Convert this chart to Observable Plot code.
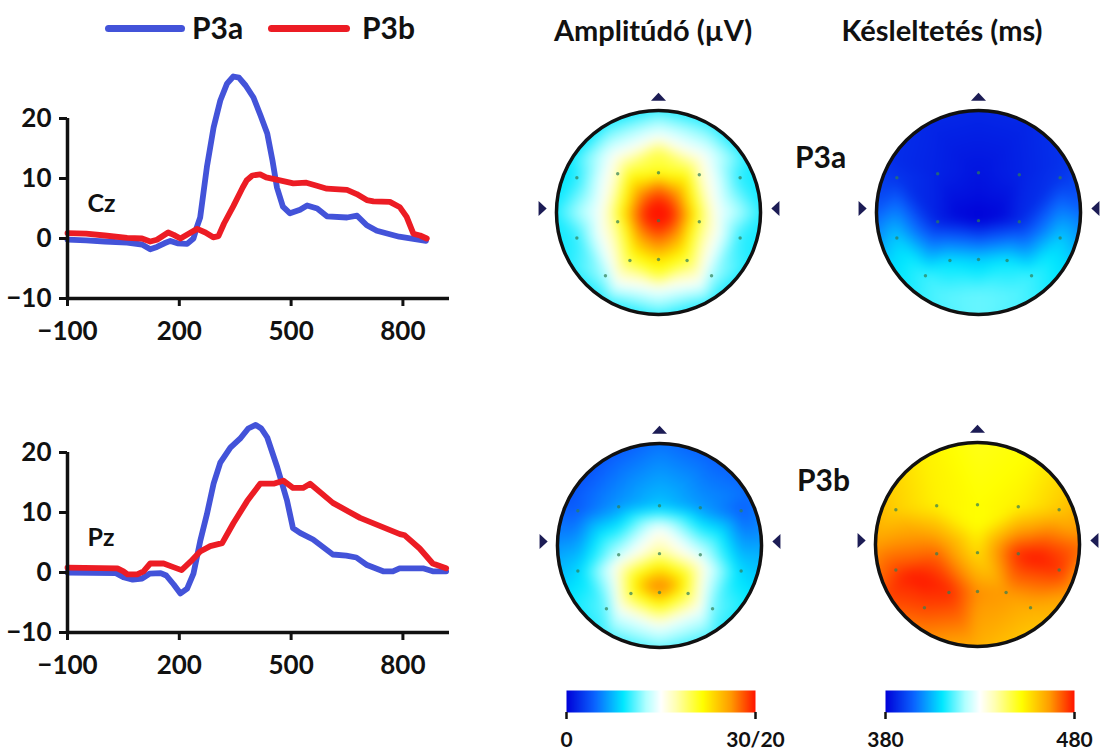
<!DOCTYPE html>
<html><head><meta charset="utf-8">
<script src="https://cdn.jsdelivr.net/npm/d3@7"></script>
<script src="https://cdn.jsdelivr.net/npm/@observablehq/plot@0.6"></script>
<style>
body{margin:0;background:#fff;font-family:Lato,sans-serif;}
#root{position:relative;width:1115px;height:751px;overflow:hidden;background:#fff;}
.box{position:absolute;}
.lbl{position:absolute;font-weight:bold;color:#111;white-space:nowrap;line-height:1;}
.swatch{position:absolute;height:7px;border-radius:4px;}
</style></head><body><div id="root"></div>
<script>
// ---------- DATA ----------
const seriesNames = ["P3a", "P3b"];
const seriesColors = ["#4353d9", "#ec1c24"];
const timeTicks = [-100, 200, 500, 800];
const timeDomain = [-100, 925];
const ampTicks = [-10, 0, 10, 20];

// ERP waveforms [time ms, amplitude µV]
const czP3a = [[-100,-0.2],[-50,-0.3],[0,-0.5],[60,-0.7],[100,-1],[122,-1.8],[140,-1.4],[160,-0.8],[176,-0.4],[195,-0.8],[221,-0.9],[238,0],[247,1.9],[256,3.5],[274,11.9],[292,18.5],[310,23],[328,25.8],[345,27],[360,26.8],[378,25.5],[399,23.5],[418,20.5],[436,17.5],[450,13],[462,8.5],[478,5.3],[497,4.2],[524,4.8],[543,5.5],[570,5],[596,3.7],[650,3.5],[677,3.8],[703,2.2],[730,1.3],[790,0.3],[862,-0.4]];
const czP3b = [[-100,0.9],[-50,0.8],[0,0.5],[60,0.1],[100,0],[122,-0.5],[140,-0.2],[170,1],[185,0.6],[203,0],[225,0.8],[248,1.6],[270,1],[291,0.2],[305,0.4],[320,2.5],[345,5.4],[370,8.5],[381,9.7],[396,10.5],[417,10.7],[433,10.2],[470,9.7],[506,9.2],[541,9.3],[569,8.8],[596,8.3],[650,8.1],[676,7.4],[703,6.4],[721,6.2],[765,6.1],[792,5.2],[810,3.6],[828,0.8],[846,0.5],[864,0]];
const pzP3a = [[-100,0],[30,-0.1],[50,-0.8],[75,-1.2],[100,-1],[120,-0.2],[150,-0.1],[165,-0.5],[185,-2],[203,-3.5],[221,-2.7],[238,-0.2],[256,5.2],[274,9.7],[292,14.8],[310,18.3],[337,20.8],[363,22.3],[385,24],[405,24.6],[420,24],[436,22.5],[463,17.5],[489,12],[505,7.4],[524,6.6],[559,5.5],[612,3],[648,2.8],[675,2.5],[702,1.3],[747,0.2],[773,0.2],[791,0.7],[854,0.7],[880,0.2],[916,0.2]];
const pzP3b = [[-100,0.8],[34,0.7],[50,0.2],[61,-0.3],[87,-0.3],[104,0.2],[122,1.5],[158,1.5],[184,0.9],[206,0.4],[230,1.8],[256,3.5],[283,4.4],[315,4.9],[345,8.2],[382,11.9],[417,14.8],[453,14.8],[479,15.3],[505,14.1],[532,14.1],[551,14.8],[612,11.6],[685,9.1],[792,6.4],[805,6.2],[845,4],[880,1.5],[916,0.7]];

// Electrode layout (head units, anterior = +y)
const electrodeNames = ["F7","F3","Fz","F4","F8","C3","Cz","C4","T3","T4","P3","Pz","P4","O1","O2"];
const electrodeX = [-0.80,-0.40,0,0.40,0.80,-0.40,0,0.40,-0.80,0.80,-0.28,0,0.28,-0.52,0.52];
const electrodeY = [0.34,0.38,0.39,0.37,0.34,-0.09,-0.08,-0.09,-0.25,-0.25,-0.47,-0.46,-0.47,-0.62,-0.62];
// Rim sample angles (deg, clockwise from nose)
const rimAngles = [0,30,60,90,120,150,180,210,240,270,300,330];

// P3a amplitude (µV, 0–30)
const p3aAmpElec = [9.8,17,21,17,9.8,19,30,19.5,10,10,20,23,20,12.5,12.5];
const p3aAmpRim  = [9.5,9.5,9.5,9.5,9.5,9.5,9.5,9.5,9.5,9.3,8.8,9.2];
const p3aAmpExtraX = [0,0,0,0.12,-0.12, 0,0,0.26,-0.26,0.19,-0.19,0.19,-0.19, 0,0,0.42,-0.42,0.32,-0.32,0.32,-0.32, 0,0,0.57,-0.57,0.45,-0.45,0.45,-0.45];
const p3aAmpExtraY = [0,-0.12,0.1,-0.02,-0.02, 0.28,-0.32,-0.02,-0.02,0.19,0.19,-0.22,-0.22, 0.62,-0.65,-0.02,-0.02,0.45,0.45,-0.5,-0.5, 0.74,-0.75,0,0,0.55,0.55,-0.55,-0.55];
const p3aAmpExtraV = [30,30,30,30,30, 26.5,26.5,26,26,26,26,26,26, 19.5,19.5,19.5,19.5,19,19,19.5,19.5, 15,15,15,15,15,15,15,15];
// P3a latency (ms, 380–480)
const p3aLatElec = [388,385,383,385,388,385,380,386,407,407,409,407,410,414,414];
const p3aLatRim  = [386,386,388,395,408,414,417,414,408,393,387,386];
const p3aLatExtraX = [0,0.2,-0.2,0,0,0.35,-0.35];
const p3aLatExtraY = [-0.05,-0.05,-0.05,0.15,-0.8,-0.8,-0.8];
const p3aLatExtraV = [380,381,381,382,417,416,416];
// P3b amplitude (µV, 0–20)
const p3bAmpElec = [2.8,4.2,5.2,4.2,2.8,8.8,12.2,9.2,5.6,5.6,13.6,17.5,13.2,7.4,7.6];
const p3bAmpRim  = [3.2,2.8,3.2,4.4,6,6.8,7,6.8,6,4,2.4,2.6];
const p3bAmpExtraX = [0,0.1,-0.1,0,0,0,0.45,-0.45,0.42,-0.42,0];
const p3bAmpExtraY = [-0.4,-0.4,-0.4,-0.27,-0.55,0.17,-0.2,-0.2,-0.65,-0.65,-0.82];
const p3bAmpExtraV = [18,17.5,17.5,16,15,10,10,10,9.5,9.5,9.5];
// P3b latency (ms, 380–480)
const p3bLatElec = [459,454,452,454,460,472,457,478,475,477,478,468,467,475,464];
const p3bLatRim  = [450,452,460,470,465,460,463,468,475,466,460,454];
const p3bLatExtraX = [0.55,-0.55,-0.3,0,-0.7];
const p3bLatExtraY = [-0.12,-0.35,-0.42,0.15,-0.3];
const p3bLatExtraV = [480,480,478,452,479];

const ampDomainP3a = [0, 30];
const ampDomainP3b = [0, 20];
const latDomain = [380, 480];
const ampBarLabels = ["0", "30/20"];
const latBarLabels = ["380", "480"];

// colour map (jet with white centre)
const cmapPos = [0, 0.15, 0.3, 0.42, 0.5, 0.58, 0.72, 0.87, 1];
const cmapCol = ["#0000d8","#0a64ff","#00e8ff","#b0ffff","#ffffff","#ffffb0","#ffff00","#ff9a00","#ff1400"];

// ---------- RENDER ----------
const root = document.getElementById("root");
const cmapScale = d3.scaleLinear().domain(cmapPos).range(cmapCol).interpolate(d3.interpolateRgb).clamp(true);
const cmap = t => cmapScale(t);

function place(node, left, top) {
  const d = document.createElement("div");
  d.className = "box"; d.style.left = left + "px"; d.style.top = top + "px";
  d.appendChild(node); root.appendChild(d); return d;
}
function label(text, left, centerY, size, centered) {
  const d = document.createElement("div");
  d.className = "lbl"; d.textContent = text;
  d.style.fontSize = size + "px";
  d.style.left = left + "px"; d.style.top = (centerY - 0.53 * size) + "px";
  if (centered) d.style.transform = "translateX(-50%)";
  root.appendChild(d); return d;
}

function erpChart(channel, a, b) {
  const rows = [
    ...a.map(([t, v]) => ({t, v, s: seriesNames[0]})),
    ...b.map(([t, v]) => ({t, v, s: seriesNames[1]}))
  ];
  return Plot.plot({
    width: 470, height: 290,
    marginLeft: 67, marginRight: 21, marginTop: 58, marginBottom: 52,
    x: {domain: timeDomain}, y: {domain: [ampTicks[0], ampTicks[ampTicks.length - 1]]},
    color: {domain: seriesNames, range: seriesColors},
    style: {fontFamily: "Lato, sans-serif", fontWeight: "bold", color: "#111", overflow: "visible", background: "transparent"},
    marks: [
      Plot.line(rows, {x: "t", y: "v", stroke: "s", z: "s", strokeWidth: 5.8, strokeLinejoin: "round", strokeLinecap: "round"}),
      Plot.ruleX([timeTicks[0]], {y1: ampTicks[0], y2: ampTicks[ampTicks.length - 1], strokeWidth: 3.5, stroke: "#111"}),
      Plot.ruleY([ampTicks[0]], {strokeWidth: 3.5, stroke: "#111"}),
      Plot.axisX({ticks: timeTicks, tickSize: 8, strokeWidth: 3, tickPadding: 15, fontSize: 26, label: null}),
      Plot.axisY({ticks: ampTicks, tickSize: 8, strokeWidth: 3, tickPadding: 8, fontSize: 26, label: null}),
      Plot.text([channel], {text: d => d, frameAnchor: "top-left", dx: 20, dy: 76, fontSize: 25, textAnchor: "start", fill: "#111"})
    ]
  });
}

const flatTriangle = {
  draw(ctx, size) {
    const r = Math.sqrt(size / Math.PI);
    ctx.moveTo(0, -r * 0.75);
    ctx.lineTo(r * 1.25, r * 0.6);
    ctx.lineTo(-r * 1.25, r * 0.6);
    ctx.closePath();
  }
};
const markers = [
  {x: 0, y: 1.13, rot: 0},
  {x: -1.14, y: 0.04, rot: 90},
  {x: 1.15, y: 0.04, rot: -90}
];

let clipId = 0;
function topoMap(elecVals, rimVals, exX, exY, exV, domain) {
  const electrodes = electrodeNames.map((n, i) => ({n, x: electrodeX[i], y: electrodeY[i], v: elecVals[i]}));
  const rim = rimAngles.map((a, i) => ({
    x: 1.06 * Math.sin(a * Math.PI / 180),
    y: 1.06 * Math.cos(a * Math.PI / 180),
    v: rimVals[i]
  }));
  const extra = exX.map((x, i) => ({x, y: exY[i], v: exV[i]}));
  const samples = [...electrodes, ...rim, ...extra];
  const ext = 1.225;
  const plot = Plot.plot({
    width: 250, height: 250, margin: 0,
    x: {domain: [-ext, ext], axis: null},
    y: {domain: [-ext, ext], axis: null},
    color: {type: "linear", domain, interpolate: cmap, clamp: true},
    style: {overflow: "visible", background: "transparent"},
    marks: [
      Plot.raster(samples, {x: "x", y: "y", fill: "v", interpolate: "barycentric", blur: 5,
        x1: -1.08, x2: 1.08, y1: -1.08, y2: 1.08, pixelSize: 1}),
      Plot.dot(electrodes, {x: "x", y: "y", r: 1.7, fill: "#2f7d55", fillOpacity: 0.7}),
      Plot.dot([{x: 0, y: 0}], {x: "x", y: "y", r: 250 / (2 * ext), fill: "none", stroke: "#111", strokeWidth: 3.5}),
      Plot.dot(markers, {x: "x", y: "y", r: 6, symbol: flatTriangle, rotate: "rot", fill: "#1c1c55"})
    ]
  });
  // clip the raster to the head circle using the plot's own scales
  const sx = plot.scale("x"), sy = plot.scale("y");
  const cx = sx.apply(0), cy = sy.apply(0), r = Math.abs(sx.apply(1) - sx.apply(0));
  const ns = "http://www.w3.org/2000/svg";
  const id = "headclip" + (clipId++);
  const defs = document.createElementNS(ns, "defs");
  const cp = document.createElementNS(ns, "clipPath");
  cp.setAttribute("id", id);
  const c = document.createElementNS(ns, "circle");
  c.setAttribute("cx", cx); c.setAttribute("cy", cy); c.setAttribute("r", r);
  cp.appendChild(c); defs.appendChild(cp);
  plot.insertBefore(defs, plot.firstChild);
  const g = plot.querySelector('g[aria-label="raster"]') || plot.querySelector("image").parentNode;
  g.setAttribute("clip-path", `url(#${id})`);
  return plot;
}

function colorBar(domain, labels) {
  return Plot.plot({
    width: 229, height: 70,
    marginLeft: 20, marginRight: 20, marginTop: 2, marginBottom: 46,
    x: {domain}, y: {domain: [0, 1], axis: null},
    color: {type: "linear", domain, interpolate: cmap},
    style: {fontFamily: "Lato, sans-serif", fontWeight: "bold", color: "#111", overflow: "visible", background: "transparent"},
    marks: [
      Plot.raster({x1: domain[0], x2: domain[1], y1: 0, y2: 1, fill: (x, y) => x, pixelSize: 1}),
      Plot.axisX({ticks: domain, tickFormat: d => labels[domain.indexOf(d)], tickSize: 7, strokeWidth: 2.5, tickPadding: 13, fontSize: 21, label: null})
    ]
  });
}

// legend
const sw1 = document.createElement("div"); sw1.className = "swatch";
Object.assign(sw1.style, {left: "105px", top: "25px", width: "80px", background: seriesColors[0]});
root.appendChild(sw1);
label(seriesNames[0], 192, 28, 30);
const sw2 = document.createElement("div"); sw2.className = "swatch";
Object.assign(sw2.style, {left: "268px", top: "25px", width: "82px", background: seriesColors[1]});
root.appendChild(sw2);
label(seriesNames[1], 362, 28, 30);

// titles
label("Amplitúdó (µV)", 653, 30, 29, true);
label("Késleltetés (ms)", 942, 30, 29, true);
label("P3a", 795, 157, 30);
label("P3b", 797, 480, 30);

// ERP charts
place(erpChart("Cz", czP3a, czP3b), 0, 60);
place(erpChart("Pz", pzP3a, pzP3b), 0, 394);

// topographic maps
place(topoMap(p3aAmpElec, p3aAmpRim, p3aAmpExtraX, p3aAmpExtraY, p3aAmpExtraV, ampDomainP3a), 658 - 125, 212 - 125);
place(topoMap(p3aLatElec, p3aLatRim, p3aLatExtraX, p3aLatExtraY, p3aLatExtraV, latDomain), 977.5 - 125, 212 - 125);
place(topoMap(p3bAmpElec, p3bAmpRim, p3bAmpExtraX, p3bAmpExtraY, p3bAmpExtraV, ampDomainP3b), 659 - 125, 545 - 125);
place(topoMap(p3bLatElec, p3bLatRim, p3bLatExtraX, p3bLatExtraY, p3bLatExtraV, latDomain), 977 - 125, 544 - 125);

// colour bars
place(colorBar(ampDomainP3a, ampBarLabels), 546, 688);
place(colorBar(latDomain, latBarLabels), 865, 688);
</script></body></html>
